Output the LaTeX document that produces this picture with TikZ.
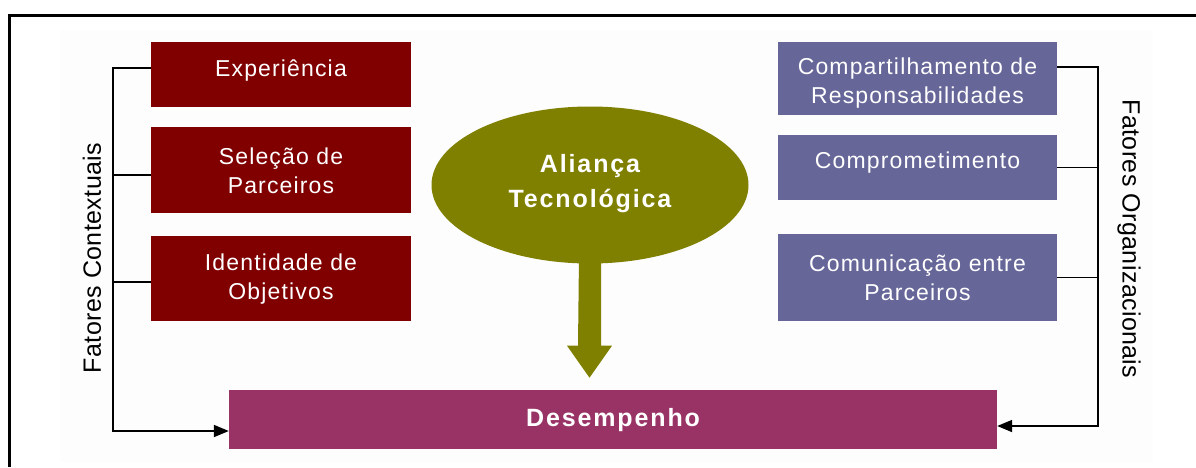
\documentclass[tikz,border=0pt]{standalone}
\usepackage{fontspec}
\setmainfont{Liberation Sans}
\usetikzlibrary{arrows.meta,shapes.geometric,calc}
\definecolor{darkred}{RGB}{128,0,0}
\definecolor{slate}{RGB}{102,102,153}
\definecolor{plum}{RGB}{153,51,102}
\definecolor{olivec}{RGB}{128,128,0}
\definecolor{bgc}{RGB}{253,253,253}
\begin{document}
\begin{tikzpicture}[x=1pt,y=-1pt,
  redbox/.style={fill=darkred, draw=none, inner sep=0pt, minimum width=260pt},
  bluebox/.style={fill=slate, draw=none, inner sep=0pt, minimum width=279pt},
  boxtext/.style={text=white, align=center, inner sep=0pt, font=\fontsize{23}{29}\selectfont\addfontfeature{LetterSpace=5}},
  sidetext/.style={text=black, inner sep=0pt, font=\fontsize{25}{29}\selectfont\addfontfeature{LetterSpace=1.5}},
  boldtext/.style={text=white, align=center, inner sep=0pt, font=\fontsize{25}{35}\selectfont\bfseries\addfontfeature{LetterSpace=7.5}},
  conn/.style={draw=black, line width=1.8pt},
  arrowc/.style={conn, -{Triangle[length=15pt,width=12pt]}}
]
\useasboundingbox (0,0) rectangle (1196,467);
\fill[bgc] (60,30) rectangle (1153,462);
\draw[line width=3pt] (1196,15.3) -- (9.7,15.3) -- (9.7,467);

% left boxes
\node[redbox, minimum height=65pt] (exp) at (281,74.5) {};
\node[redbox, minimum height=86pt] (sel) at (281,170) {};
\node[redbox, minimum height=85pt] (ide) at (281,278.5) {};
\node[boxtext] (texp) at (281,71) {Experiência};
\node[boxtext] (tsel) at (281,170.5) {Seleção de\\Parceiros};
\node[boxtext] (tide) at (281,279.5) {Identidade de\\Objetivos};

% right boxes
\node[bluebox, minimum height=73pt] (comp) at (917.5,78.5) {};
\node[bluebox, minimum height=65pt] (compr) at (917.5,167.5) {};
\node[bluebox, minimum height=87pt] (comu) at (917.5,277.5) {};
\node[boxtext] (tcomp) at (917.5,83.5) {Compartilhamento de\\Responsabilidades};
\node[boxtext] (tcompr) at (917.5,163) {Comprometimento};
\node[boxtext] (tcomu) at (917.5,277.5) {Comunicação entre\\Parceiros};

% bottom box
\node[fill=plum, inner sep=0pt, minimum width=768pt, minimum height=59pt] (des) at (613,419.5) {};
\node[boldtext] (tdes) at (613,420) {Desempenho};

% ellipse and arrow
\node[ellipse, fill=olivec, inner sep=0pt, minimum width=317pt, minimum height=157pt] (ell) at (590,185) {};
\node[boldtext] (tell) at (590,184) {Aliança\\Tecnológica};
\fill[olivec] ($(ell.south)+(-11,-8)$) -- ++(22,0) -- ++(0,90) -- ++(11,0) -- ++(-22.5,32) -- ++(-22.5,-32) -- ++(11,0) -- cycle;

% side labels
\node[sidetext, rotate=90] (lctx) at (92,258) {Fatores Contextuais};
\node[sidetext, rotate=-90] (lorg) at (1129,239) {Fatores Organizacionais};

% left connectors
\coordinate (Lb) at (113,431);
\draw[arrowc] ([yshift=6.5pt]exp.west) -| (Lb) -- (des.west |- Lb);
\draw[conn] ([yshift=-5pt]sel.west) -- ++(-38,0);
\draw[conn] ([yshift=-3.5pt]ide.west) -- ++(-38,0);

% right connectors
\coordinate (Rb) at (1098,426);
\draw[arrowc] ([yshift=11.5pt]comp.east) -| (Rb) -- (des.east |- Rb);
\draw[conn] (compr.east) -- ++(41,0);
\draw[conn] (comu.east) -- ++(41,0);
\end{tikzpicture}
\end{document}
